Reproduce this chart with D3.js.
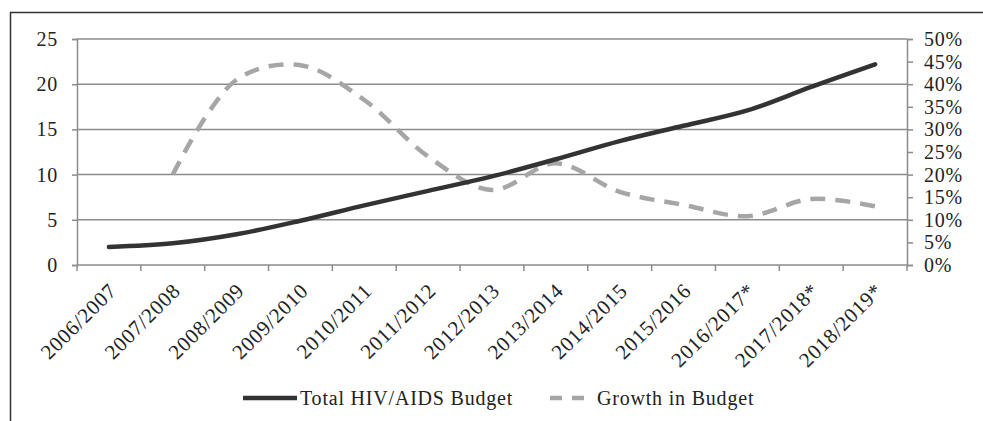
<!DOCTYPE html>
<html>
<head>
<meta charset="utf-8">
<script src="https://cdnjs.cloudflare.com/ajax/libs/d3/7.8.5/d3.min.js"></script>
<style>
  body { margin: 0; background: #fff; }
  text { font-family: "Liberation Serif", "Times New Roman", serif; fill: #222; letter-spacing: 0.8px; }
</style>
</head>
<body>
<div id="chart"></div>
<script>
// values
var years = ['2006/2007', '2007/2008', '2008/2009', '2009/2010', '2010/2011', '2011/2012',
  '2012/2013', '2013/2014', '2014/2015', '2015/2016', '2016/2017*', '2017/2018*', '2018/2019*'];
var budget = [2.0, 2.4, 3.4, 4.9, 6.6, 8.2, 9.8, 11.7, 13.7, 15.4, 17.1, 19.7, 22.2];
var growth = [null, 0.20, 0.41, 0.442, 0.365, 0.24, 0.166, 0.225, 0.162, 0.133, 0.108, 0.146, 0.13];
var leftTicks = [0, 5, 10, 15, 20, 25];
var rightTicks = [0, 0.05, 0.1, 0.15, 0.2, 0.25, 0.3, 0.35, 0.4, 0.45, 0.5];

var w = 983, h = 421;
var plotLeft = 77, plotRight = 907, plotTop = 39, plotBottom = 265;

var svg = d3.select('#chart').append('svg')
  .attr('width', w)
  .attr('height', h);

// outer frame (top and left edges only)
svg.append('path')
  .attr('d', 'M10.5,' + h + 'V12.5H' + w)
  .attr('fill', 'none')
  .attr('stroke', '#333')
  .attr('stroke-width', 1.5);

var x = d3.scaleBand().domain(years).range([plotLeft, plotRight]);
var y = d3.scaleLinear().domain([0, 25]).range([plotBottom, plotTop]);
var y2 = d3.scaleLinear().domain([0, 0.5]).range([plotBottom, plotTop]);

// gridlines
svg.append('g')
  .selectAll('line')
  .data(leftTicks)
  .enter().append('line')
  .attr('x1', plotLeft).attr('x2', plotRight)
  .attr('y1', function(d) { return y(d); })
  .attr('y2', function(d) { return y(d); })
  .attr('stroke', '#8c8c8c')
  .attr('stroke-width', 1.5);

// left axis
var gl = svg.append('g')
  .attr('transform', 'translate(' + plotLeft + ',0)')
  .call(d3.axisLeft(y).tickValues(leftTicks).tickSize(5).tickPadding(14));
gl.select('.domain').attr('stroke', '#8c8c8c').attr('stroke-width', 1.5);
gl.selectAll('.tick line').attr('stroke', '#8c8c8c').attr('stroke-width', 1.5);
gl.selectAll('text').style('font-size', '20px').attr('fill', '#222');

// right axis
var gr = svg.append('g')
  .attr('transform', 'translate(' + plotRight + ',0)')
  .call(d3.axisRight(y2).tickValues(rightTicks).tickSize(6).tickPadding(11)
    .tickFormat(d3.format('.0%')));
gr.select('.domain').attr('stroke', '#8c8c8c').attr('stroke-width', 1.5);
gr.selectAll('.tick line').attr('stroke', '#8c8c8c').attr('stroke-width', 1.5);
gr.selectAll('text').style('font-size', '20px').attr('fill', '#222');

// bottom axis: ticks at category boundaries
var bounds = years.map(function(d) { return x(d); }).concat([plotRight]);
svg.append('g')
  .selectAll('line')
  .data(bounds)
  .enter().append('line')
  .attr('x1', function(d) { return d; })
  .attr('x2', function(d) { return d; })
  .attr('y1', plotBottom).attr('y2', plotBottom + 6)
  .attr('stroke', '#8c8c8c')
  .attr('stroke-width', 1.5);

svg.append('g')
  .selectAll('text')
  .data(years)
  .enter().append('text')
  .attr('transform', function(d) {
    return 'translate(' + (x(d) + x.bandwidth() / 2 + 9) + ',' + (plotBottom + 27) + ') rotate(-45)';
  })
  .attr('text-anchor', 'end')
  .style('font-size', '21px')
  .text(function(d) { return d; });

// series
var line1 = d3.line()
  .x(function(d, i) { return x(years[i]) + x.bandwidth() / 2; })
  .y(function(d) { return y(d); })
  .curve(d3.curveCatmullRom.alpha(0.5));

var line2 = d3.line()
  .defined(function(d) { return d !== null; })
  .x(function(d, i) { return x(years[i]) + x.bandwidth() / 2; })
  .y(function(d) { return y2(d); })
  .curve(d3.curveCatmullRom.alpha(0.5));

svg.append('path')
  .datum(growth)
  .attr('d', line2)
  .attr('fill', 'none')
  .attr('stroke', '#a6a6a6')
  .attr('stroke-width', 4.5)
  .attr('stroke-dasharray', '15,10');

svg.append('path')
  .datum(budget)
  .attr('d', line1)
  .attr('fill', 'none')
  .attr('stroke', '#333')
  .attr('stroke-width', 4.5)
  .attr('stroke-linecap', 'round');

// legend
var legend = svg.append('g');
legend.append('line')
  .attr('x1', 243).attr('x2', 297).attr('y1', 398).attr('y2', 398)
  .attr('stroke', '#333').attr('stroke-width', 4.5);
legend.append('text')
  .attr('x', 300).attr('y', 405)
  .style('font-size', '20px')
  .text('Total HIV/AIDS Budget');
legend.append('line')
  .attr('x1', 550).attr('x2', 592).attr('y1', 398).attr('y2', 398)
  .attr('stroke', '#a6a6a6').attr('stroke-width', 4.5)
  .attr('stroke-dasharray', '12,10');
legend.append('text')
  .attr('x', 597).attr('y', 405)
  .style('font-size', '20px')
  .text('Growth in Budget');
</script>
</body>
</html>
